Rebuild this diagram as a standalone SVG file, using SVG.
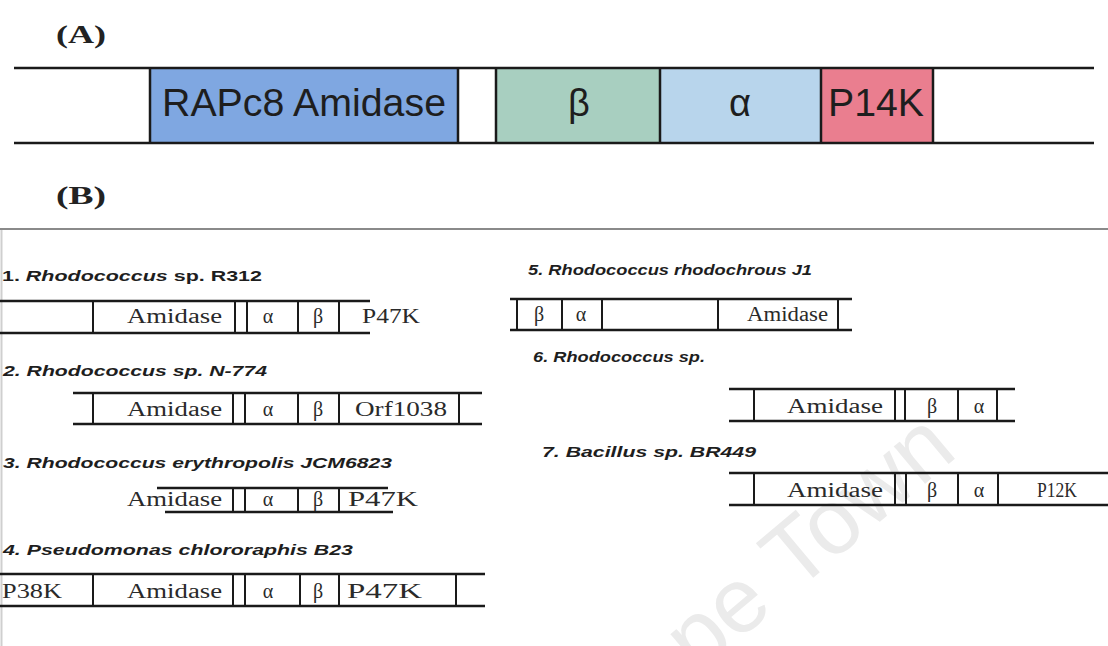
<svg xmlns="http://www.w3.org/2000/svg" width="1108" height="646" viewBox="0 0 1108 646">
<style>
.bg{fill:#ffffff}
.ln{stroke:#1a1a1a;stroke-width:2.5;fill:none}
.vl{stroke:#1a1a1a;stroke-width:2;fill:none}
.hd{font-family:"Liberation Serif",serif;font-weight:bold;font-size:25px;fill:#222}
.ga{font-family:"Liberation Sans",Arial,sans-serif;font-size:38px;fill:#1e1e1e}
.lb{font-family:"Liberation Sans",Arial,sans-serif;font-size:15px;font-weight:bold;font-style:italic;fill:#1e1e1e}
.up{font-style:normal}
.gs{font-family:"Liberation Serif",serif;font-size:20px;fill:#2a2a2a}
.gm{font-family:"Liberation Serif",serif;font-size:20px;fill:#2a2a2a;text-anchor:middle}
.wm{font-family:"Liberation Sans",Arial,sans-serif;font-size:92px;fill:#ebebeb}
</style>
<rect class="bg" x="0" y="0" width="1108" height="646"/>

<!-- watermark -->
<g id="watermark" transform="translate(795,593) rotate(-40)">
  <text class="wm" x="-25.6" y="0" text-anchor="end">Cape</text>
  <text class="wm" x="0" y="0">Town</text>
</g>

<!-- Panel A -->
<text id="labelA" class="hd" x="56" y="43" textLength="50" lengthAdjust="spacingAndGlyphs">(A)</text>
<g id="panelA">
  <rect id="rapc8" x="150" y="68" width="308" height="75" fill="#7FA7E1"/>
  <rect id="beta" x="496" y="68" width="164" height="75" fill="#A8CFC0"/>
  <rect id="alpha" x="660" y="68" width="161" height="75" fill="#B8D5EC"/>
  <rect id="p14k" x="821" y="68" width="112" height="75" fill="#EA7E8F"/>
  <line class="ln" x1="14" y1="68" x2="1094" y2="68"/>
  <line class="ln" x1="14" y1="143" x2="1094" y2="143"/>
  <line class="ln" x1="150" y1="68" x2="150" y2="143"/>
  <line class="ln" x1="458" y1="68" x2="458" y2="143"/>
  <line class="ln" x1="496" y1="68" x2="496" y2="143"/>
  <line class="ln" x1="660" y1="68" x2="660" y2="143"/>
  <line class="ln" x1="821" y1="68" x2="821" y2="143"/>
  <line class="ln" x1="933" y1="68" x2="933" y2="143"/>
  <text class="ga" x="162" y="116" textLength="284" lengthAdjust="spacingAndGlyphs">RAPc8 Amidase</text>
  <text class="ga" x="579" y="116" text-anchor="middle">β</text>
  <text class="ga" x="740" y="116" text-anchor="middle">α</text>
  <text class="ga" x="828" y="116" textLength="96" lengthAdjust="spacingAndGlyphs">P14K</text>
</g>

<!-- Panel B -->
<text id="labelB" class="hd" x="56" y="204" textLength="50" lengthAdjust="spacingAndGlyphs">(B)</text>
<line x1="0" y1="229" x2="1108" y2="229" stroke="#8a8a8a" stroke-width="2"/>
<line x1="1.5" y1="230" x2="1.5" y2="646" stroke="#cfcfcf" stroke-width="2"/>

<g id="row1">
  <text class="lb" x="2" y="281" textLength="260" lengthAdjust="spacingAndGlyphs"><tspan class="up">1. </tspan>Rhodococcus<tspan class="up"> sp. R312</tspan></text>
  <line class="ln" x1="0" y1="301" x2="370" y2="301"/>
  <line class="ln" x1="0" y1="333" x2="370" y2="333"/>
  <path class="vl" d="M93,301V333M235,301V333M247,301V333M298,301V333M339,301V333"/>
  <text class="gs" x="127" y="323" textLength="95" lengthAdjust="spacingAndGlyphs">Amidase</text>
  <text class="gm" x="268" y="323">α</text>
  <text class="gm" x="318" y="323">β</text>
  <text class="gs" x="362" y="323" textLength="58" lengthAdjust="spacingAndGlyphs">P47K</text>
</g>

<g id="row2">
  <text class="lb" x="3" y="376" textLength="264" lengthAdjust="spacingAndGlyphs">2. Rhodococcus sp. N-774</text>
  <line class="ln" x1="73" y1="393" x2="482" y2="393"/>
  <line class="ln" x1="73" y1="424" x2="482" y2="424"/>
  <path class="vl" d="M93,393V424M233,393V424M245,393V424M298,393V424M339,393V424M459,393V424"/>
  <text class="gs" x="127" y="416" textLength="95" lengthAdjust="spacingAndGlyphs">Amidase</text>
  <text class="gm" x="268" y="416">α</text>
  <text class="gm" x="318" y="416">β</text>
  <text class="gs" x="355" y="416" textLength="92" lengthAdjust="spacingAndGlyphs">Orf1038</text>
</g>

<g id="row3">
  <text class="lb" x="3" y="468" textLength="389" lengthAdjust="spacingAndGlyphs">3. Rhodococcus erythropolis JCM6823</text>
  <line class="ln" x1="157" y1="488" x2="388" y2="488"/>
  <line class="ln" x1="165" y1="512" x2="393" y2="512"/>
  <path class="vl" d="M233,488V512M245,488V512M298,488V512M339,488V512"/>
  <text class="gs" x="127" y="506" textLength="95" lengthAdjust="spacingAndGlyphs">Amidase</text>
  <text class="gm" x="268" y="506">α</text>
  <text class="gm" x="318" y="506">β</text>
  <text class="gs" x="348" y="506" textLength="70" lengthAdjust="spacingAndGlyphs">P47K</text>
</g>

<g id="row4">
  <text class="lb" x="3" y="555" textLength="350" lengthAdjust="spacingAndGlyphs">4. Pseudomonas chlororaphis B23</text>
  <line class="ln" x1="0" y1="574" x2="485" y2="574"/>
  <line class="ln" x1="0" y1="606" x2="485" y2="606"/>
  <path class="vl" d="M93,574V606M233,574V606M245,574V606M300,574V606M339,574V606M456,574V606"/>
  <text class="gs" x="2" y="598" textLength="60" lengthAdjust="spacingAndGlyphs">P38K</text>
  <text class="gs" x="127" y="598" textLength="95" lengthAdjust="spacingAndGlyphs">Amidase</text>
  <text class="gm" x="268" y="598">α</text>
  <text class="gm" x="318" y="598">β</text>
  <text class="gs" x="347" y="598" textLength="75" lengthAdjust="spacingAndGlyphs">P47K</text>
</g>

<g id="row5">
  <text class="lb" x="528" y="275" textLength="284" lengthAdjust="spacingAndGlyphs">5. Rhodococcus rhodochrous J1</text>
  <line class="ln" x1="510" y1="299" x2="852" y2="299"/>
  <line class="ln" x1="510" y1="330" x2="852" y2="330"/>
  <path class="vl" d="M517,299V330M562,299V330M602,299V330M718,299V330M838,299V330"/>
  <text class="gm" x="539" y="321">β</text>
  <text class="gm" x="581" y="321">α</text>
  <text class="gs" x="747" y="321" textLength="81" lengthAdjust="spacingAndGlyphs">Amidase</text>
</g>

<g id="row6">
  <text class="lb" x="533" y="362" textLength="172" lengthAdjust="spacingAndGlyphs">6. Rhodococcus sp.</text>
  <line class="ln" x1="729" y1="389" x2="1015" y2="389"/>
  <line class="ln" x1="729" y1="421" x2="1015" y2="421"/>
  <path class="vl" d="M754,389V421M895,389V421M905,389V421M958,389V421M997,389V421"/>
  <text class="gs" x="787" y="413" textLength="96" lengthAdjust="spacingAndGlyphs">Amidase</text>
  <text class="gm" x="932" y="413">β</text>
  <text class="gm" x="979" y="413">α</text>
</g>

<g id="row7">
  <text class="lb" x="542" y="457" textLength="214" lengthAdjust="spacingAndGlyphs">7. Bacillus sp. BR449</text>
  <line class="ln" x1="729" y1="473" x2="1108" y2="473"/>
  <line class="ln" x1="729" y1="505" x2="1108" y2="505"/>
  <path class="vl" d="M754,473V505M895,473V505M906,473V505M958,473V505M998,473V505"/>
  <text class="gs" x="787" y="497" textLength="96" lengthAdjust="spacingAndGlyphs">Amidase</text>
  <text class="gm" x="932" y="497">β</text>
  <text class="gm" x="979" y="497">α</text>
  <text class="gs" x="1037" y="497" textLength="40" lengthAdjust="spacingAndGlyphs">P12K</text>
</g>
</svg>
